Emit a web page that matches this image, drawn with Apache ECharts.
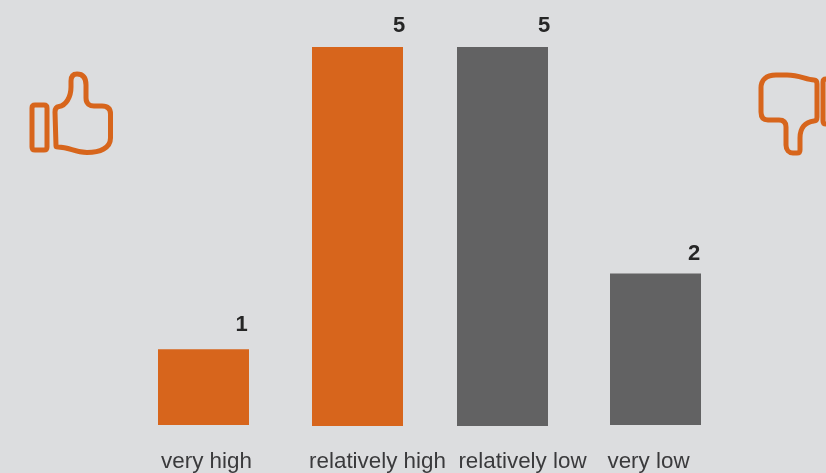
<!DOCTYPE html>
<html>
<head>
<meta charset="utf-8">
<style>
  html, body { margin: 0; padding: 0; background: #dcdddf; }
  #chart { width: 826px; height: 473px; }
</style>
<script src="https://cdn.jsdelivr.net/npm/echarts@6/dist/echarts.min.js"></script>
</head>
<body>
<div id="chart"></div>
<script>
// Ratings and their counts
const categories = ['very high', 'relatively high', 'relatively low', 'very low'];
const counts = [1, 5, 5, 2];
const yMax = 5;

const ORANGE = '#d7651c';
const GREY = '#626263';
const barColors = [ORANGE, ORANGE, GREY, GREY];

// Each bar sits in its own grid because the columns are unevenly spaced
const grids = [
  { left: 158, top: 46, width: 91, height: 379 },
  { left: 312, top: 47, width: 91, height: 379 },
  { left: 457, top: 47, width: 91, height: 379 },
  { left: 610, top: 46, width: 91, height: 379 }
];
const categoryShift = [3, 20, 20, -7];
const categoryMargin = [26, 25, 25, 26];
const valueOffset = [[38, -8], [41.5, -5], [41.5, -5], [38.5, -3]];

// Thumbs-up and thumbs-down outlines
const iconPaths = [
  'M35 105 L44 105 Q47 105 47 108 L47 147 Q47 150 44 150 L35 150 Q32 150 32 147 L32 108 Q32 105 35 105 Z',
  'M56 146 L55 112 Q55 107 59 106.5 C66 105.5 71 97 71 87 L71 81 Q71 74 77 74 C83 74 86 78 86 85 L86 98 C86 104 90 106 94 106 L102 106 Q110.5 106 110.5 114 L110.5 138 C110.5 148 100 152.5 87 152.5 C74 152.5 70 147 58 147 Q56 147 56 146 Z',
  'M817 84 Q817 80 814 80 C806 80 800 75 787 75 L776 75 C766 75 761 80 761 88 L761 112 C761 118 764 120 768 120 L779 120 C784 120 786 123 786 127 L786 145 C786 150 789 153 793 153 L797 153 Q800 153 800 150 L800 138 C800 128 805 122 814 121 Q817 121 817 117 Z',
  'M826 79 L840 79 L840 124 L826 124 Q823 124 823 121 L823 82 Q823 79 826 79 Z'
];

const barSeries = counts.map((value, i) => ({
  type: 'bar',
  xAxisIndex: i,
  yAxisIndex: i,
  barWidth: '100%',
  data: [value],
  itemStyle: { color: barColors[i] },
  label: {
    show: true,
    position: 'top',
    offset: valueOffset[i],
    fontSize: 22,
    fontWeight: 'bold',
    color: '#262626'
  }
}));

const iconSeries = {
  type: 'custom',
  coordinateSystem: 'none',
  silent: true,
  data: iconPaths.map((_, i) => i),
  renderItem: (params) => ({
    type: 'path',
    shape: { pathData: iconPaths[params.dataIndex] },
    style: { fill: 'none', stroke: ORANGE, lineWidth: 5 }
  })
};

const chart = echarts.init(document.getElementById('chart'));
chart.setOption({
  backgroundColor: '#dcdddf',
  animation: false,
  textStyle: { fontFamily: '"Liberation Sans", Arial, sans-serif' },
  grid: grids,
  xAxis: categories.map((name, i) => ({
    type: 'category',
    gridIndex: i,
    data: [name],
    axisLine: { show: false },
    axisTick: { show: false },
    axisLabel: {
      margin: categoryMargin[i],
      fontSize: 22.4,
      color: '#3a3a3c',
      padding: categoryShift[i] > 0
        ? [0, 0, 0, categoryShift[i] * 2]
        : [0, -categoryShift[i] * 2, 0, 0]
    }
  })),
  yAxis: categories.map((_, i) => ({
    type: 'value',
    gridIndex: i,
    min: 0,
    max: yMax,
    show: false
  })),
  series: barSeries.concat(iconSeries)
});
</script>
</body>
</html>
